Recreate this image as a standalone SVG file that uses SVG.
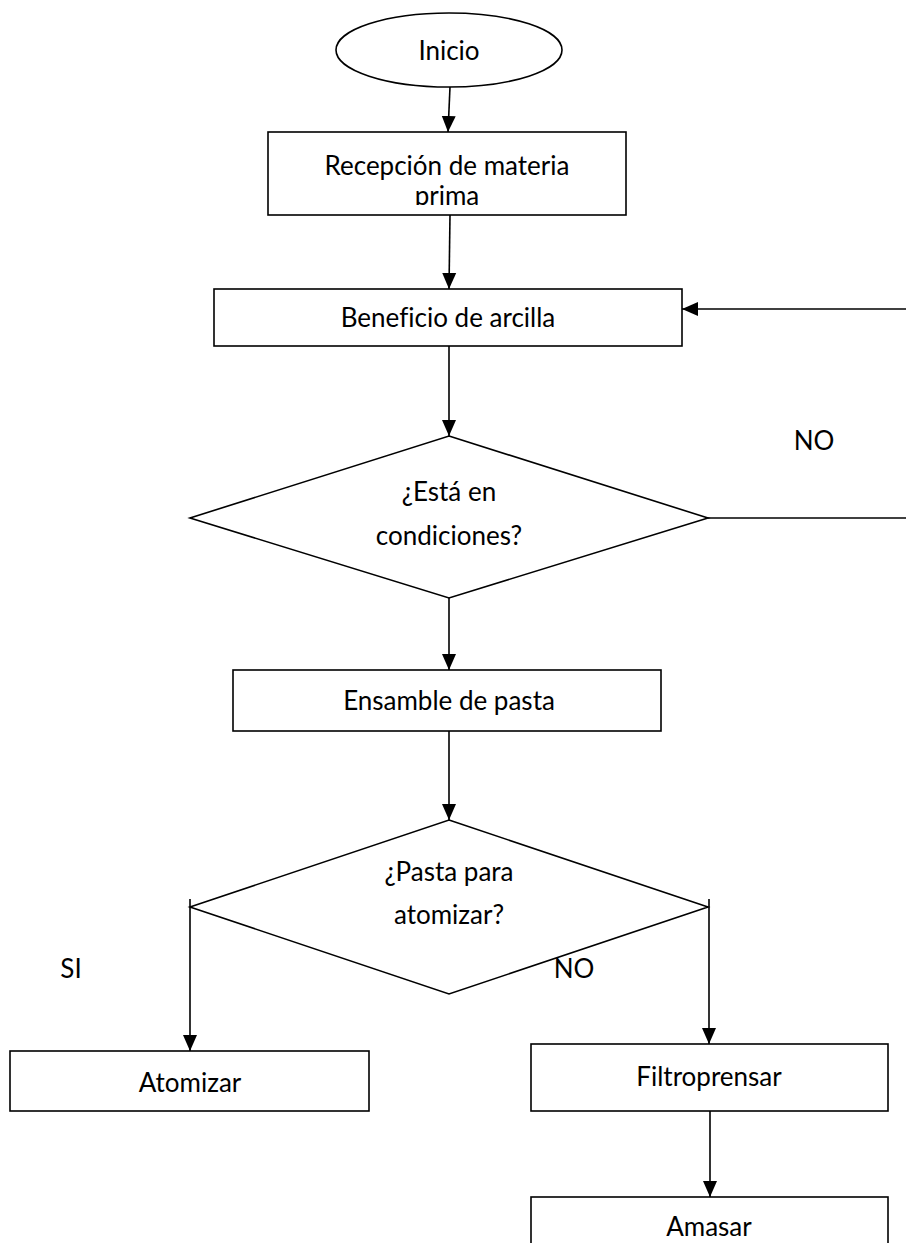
<svg xmlns="http://www.w3.org/2000/svg" width="906" height="1243" viewBox="0 0 906 1243">
<style>
.s{fill:#fff;stroke:#000;stroke-width:1.6}
.c{fill:none;stroke:#000;stroke-width:1.6}
text{font-family:Lato,"Open Sans","Liberation Sans",sans-serif;font-size:26px;fill:#000;text-anchor:middle;dominant-baseline:central;font-variant-ligatures:none}
</style>
<defs>
<marker id="ah" markerUnits="userSpaceOnUse" markerWidth="16" markerHeight="16" viewBox="0 0 16 16" refX="16" refY="8" orient="auto"><path d="M0,1 L16,8 L0,15 Z" fill="#000"/></marker>
<clipPath id="cp1"><rect x="268" y="132" width="358" height="73"/></clipPath>
</defs>
<rect width="906" height="1243" fill="#fff"/>
<g id="connectors">
<path class="c" d="M450,87 L448,132" marker-end="url(#ah)"/>
<path class="c" d="M450,215 L449,289" marker-end="url(#ah)"/>
<path class="c" d="M906,309 L682,309" marker-end="url(#ah)"/>
<path class="c" d="M449,346 L449,436" marker-end="url(#ah)"/>
<path class="c" d="M708,518 L906,518"/>
<path class="c" d="M449,598 L449,670" marker-end="url(#ah)"/>
<path class="c" d="M449,731 L449,820" marker-end="url(#ah)"/>
<path class="c" d="M190,899 L190,1051" marker-end="url(#ah)"/>
<path class="c" d="M709,899 L709,1044" marker-end="url(#ah)"/>
<path class="c" d="M710,1111 L710,1197" marker-end="url(#ah)"/>
</g>
<g id="n_inicio"><ellipse class="s" cx="449" cy="50" rx="113" ry="37"/><text x="449" y="50">Inicio</text></g>
<g id="n_recepcion"><rect class="s" x="268" y="132" width="358" height="83"/><g clip-path="url(#cp1)"><text x="447" y="165">Recepción de materia</text><text x="447" y="195">prima</text></g></g>
<g id="n_beneficio"><rect class="s" x="214" y="289" width="468" height="57"/><text x="448" y="317">Beneficio de arcilla</text></g>
<g id="n_cond"><polygon class="s" points="449,436 708,518 449,598 190,518"/><text x="449" y="491">¿Está en</text><text x="449" y="535">condiciones?</text></g>
<text x="814" y="440">NO</text>
<g id="n_ensamble"><rect class="s" x="233" y="670" width="428" height="61"/><text x="449" y="700">Ensamble de pasta</text></g>
<g id="n_pasta"><polygon class="s" points="449,820 708,907 449,994 190,907"/><text x="449" y="871">¿Pasta para</text><text x="449" y="914">atomizar?</text></g>
<text x="71" y="968">SI</text>
<text x="574" y="968">NO</text>
<g id="n_atomizar"><rect class="s" x="10" y="1051" width="359" height="60"/><text x="190" y="1082">Atomizar</text></g>
<g id="n_filtro"><rect class="s" x="531" y="1044" width="357" height="67"/><text x="709" y="1076">Filtroprensar</text></g>
<g id="n_amasar"><rect class="s" x="531" y="1197" width="357" height="60"/><text x="709" y="1226">Amasar</text></g>
</svg>
